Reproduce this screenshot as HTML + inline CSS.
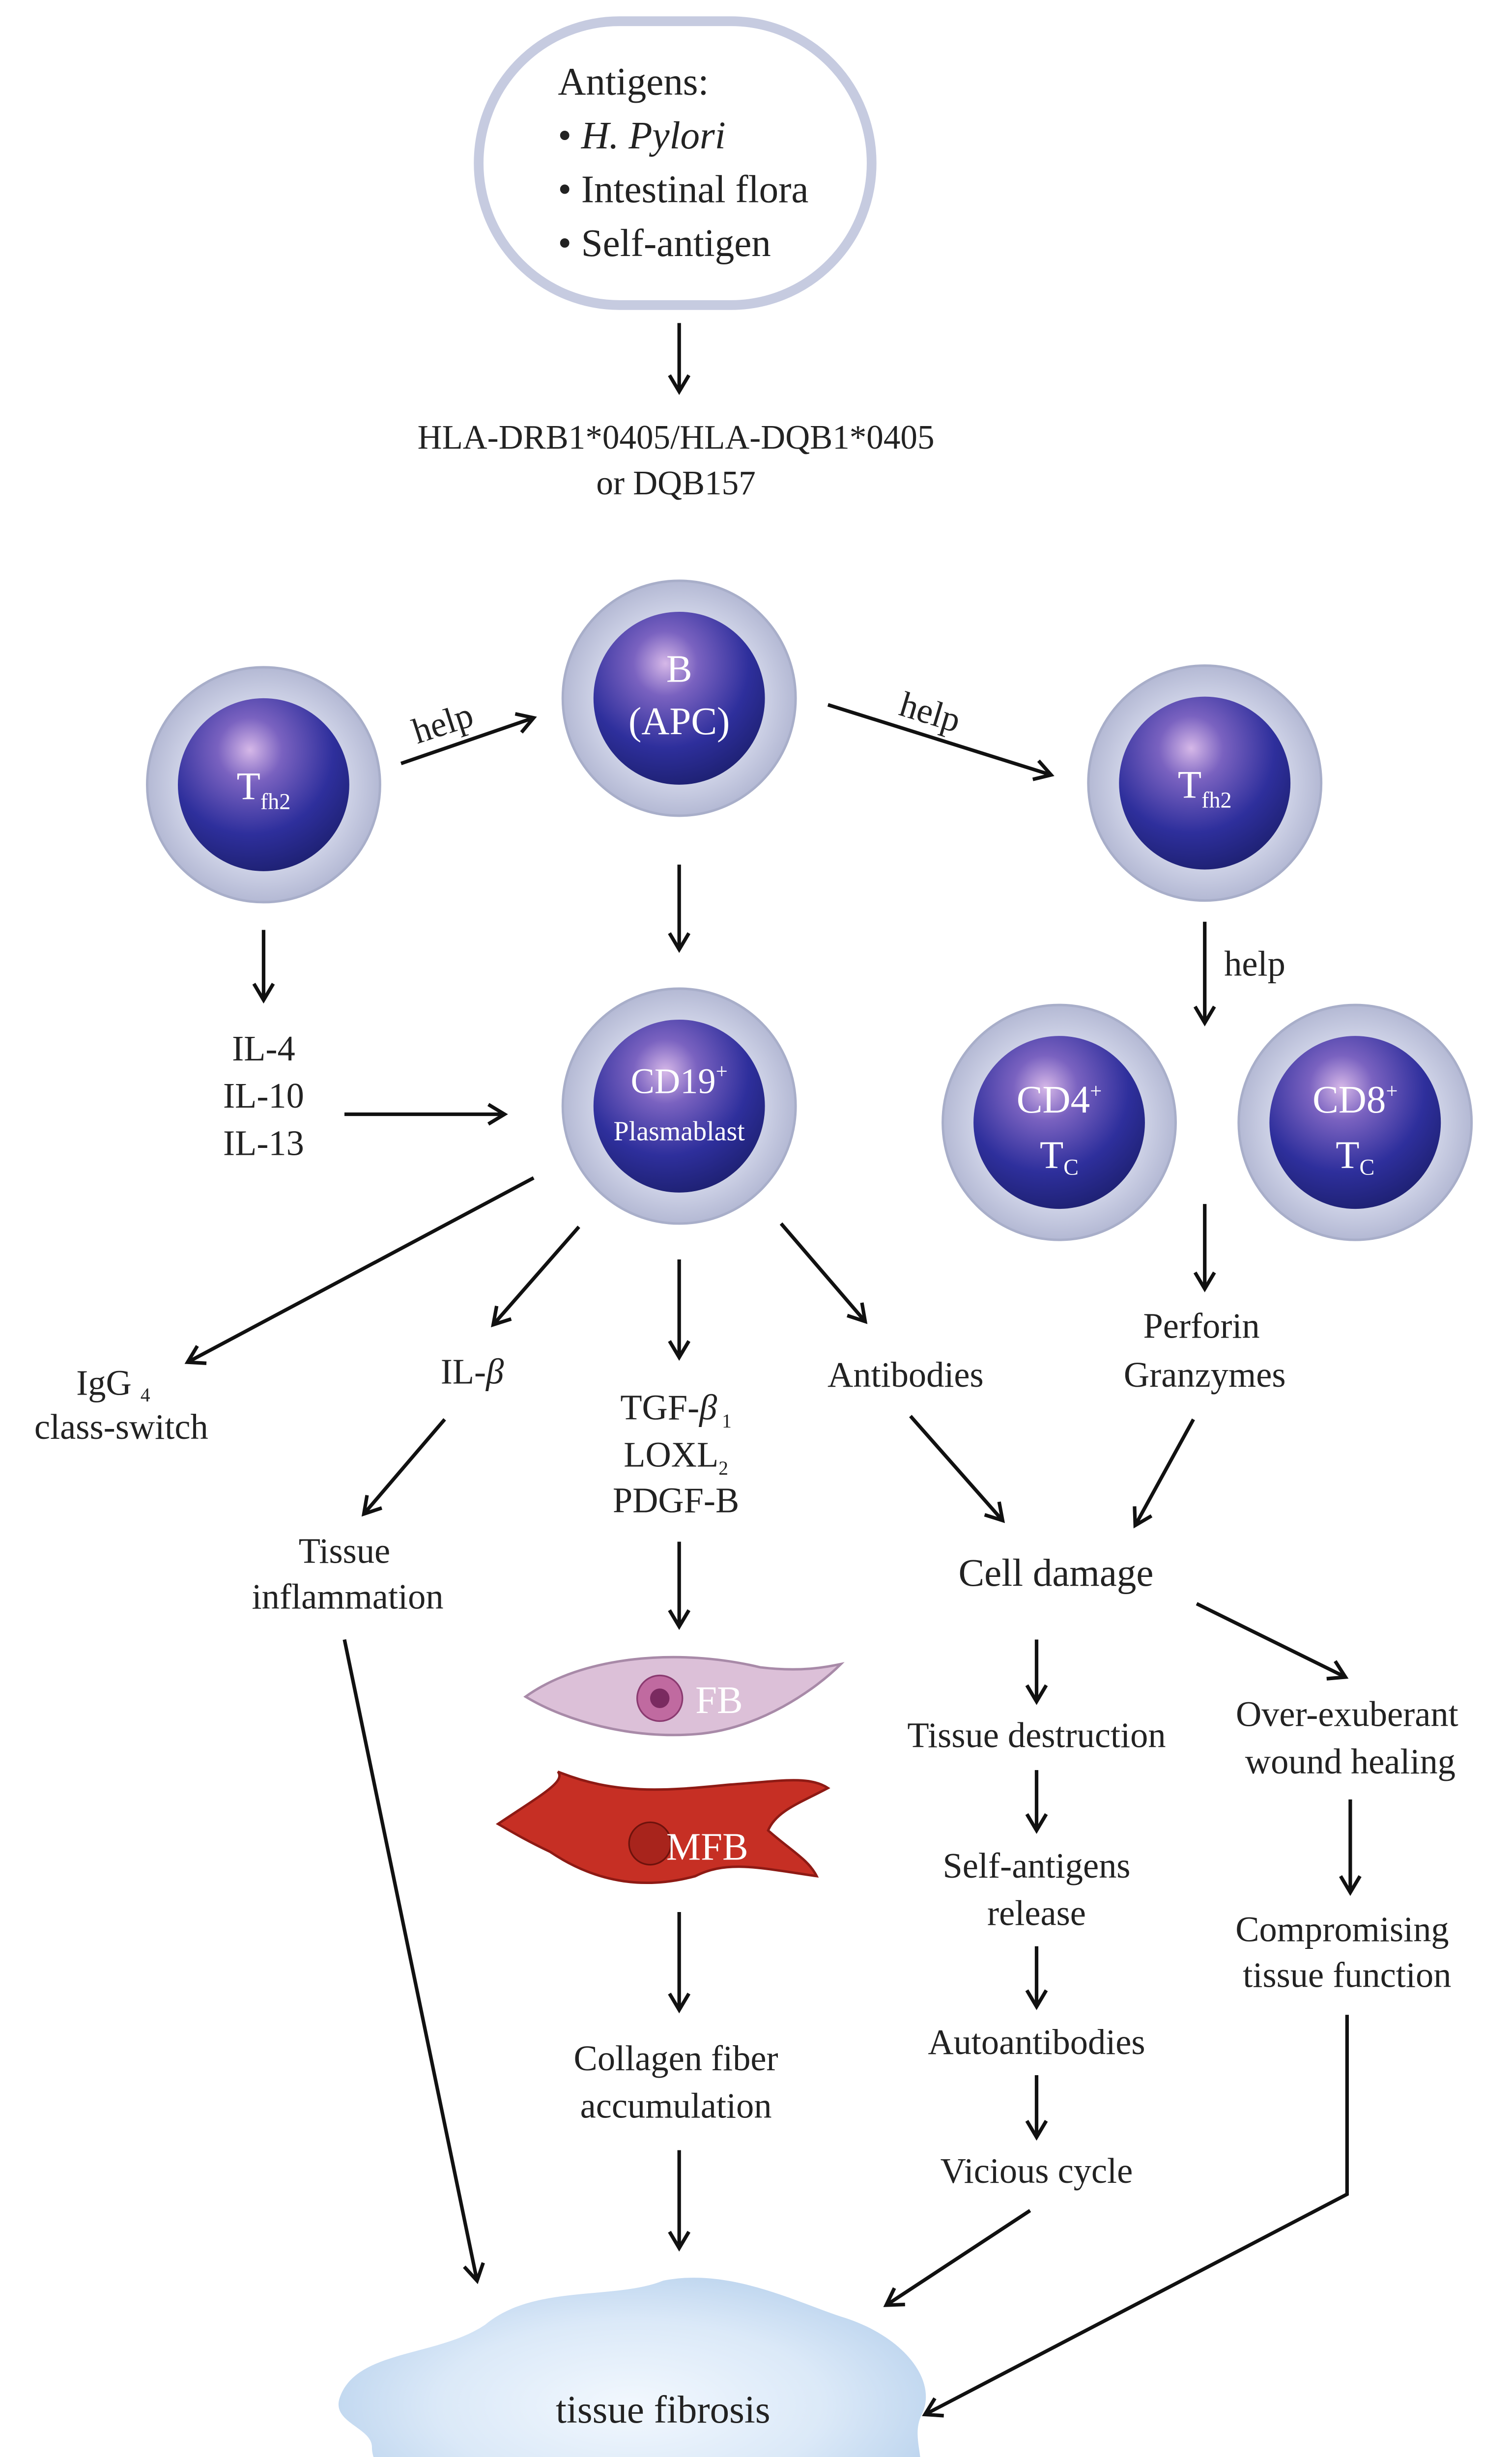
<!DOCTYPE html>
<html><head><meta charset="utf-8"><style>
html,body{margin:0;padding:0;background:#fff;width:3077px;height:5199px;overflow:hidden;}
svg{display:block;position:absolute;left:0;top:0;}
text{font-family:"Liberation Serif",serif;fill:#222;}
</style></head><body>
<svg width="3077" height="5199" viewBox="0 0 935 1566" preserveAspectRatio="none" xmlns="http://www.w3.org/2000/svg">
<defs>
<marker id="a" markerWidth="14" markerHeight="14" refX="11" refY="7" orient="auto" markerUnits="userSpaceOnUse">
<polyline points="1,1 11,7 1,13" fill="none" stroke="#111" stroke-width="2.2"/>
</marker>
<radialGradient id="g" cx="0.42" cy="0.3" r="0.75">
<stop offset="0" stop-color="#d6b8e8"/>
<stop offset="0.25" stop-color="#7a62c0"/>
<stop offset="0.65" stop-color="#2e2f9c"/>
<stop offset="1" stop-color="#1c1f6e"/>
</radialGradient>
<radialGradient id="ring" cx="0.5" cy="0.5" r="0.5">
<stop offset="0.7" stop-color="#d0d4e8"/>
<stop offset="1" stop-color="#b4b9d4"/>
</radialGradient>
<radialGradient id="cl" cx="0.5" cy="0.5" r="0.55">
<stop offset="0" stop-color="#f2f8fe"/>
<stop offset="0.6" stop-color="#dbe9f8"/>
<stop offset="1" stop-color="#bcd4ee"/>
</radialGradient>
</defs>
<g stroke="#111" stroke-width="2.2" fill="none" marker-end="url(#a)">
<line x1="420" y1="198" x2="420" y2="240"/>
<line x1="248" y1="468" x2="330" y2="440"/>
<line x1="512" y1="432" x2="650" y2="475"/>
<line x1="420" y1="530" x2="420" y2="582"/>
<line x1="163" y1="570" x2="163" y2="613"/>
<line x1="213" y1="683" x2="312" y2="683"/>
<line x1="745" y1="565" x2="745" y2="627"/>
<line x1="330" y1="722" x2="116" y2="835"/>
<line x1="358" y1="752" x2="305" y2="812"/>
<line x1="420" y1="772" x2="420" y2="832"/>
<line x1="483" y1="750" x2="535" y2="810"/>
<line x1="745" y1="738" x2="745" y2="790"/>
<line x1="275" y1="870" x2="225" y2="928"/>
<line x1="563" y1="868" x2="620" y2="932"/>
<line x1="738" y1="870" x2="702" y2="935"/>
<line x1="420" y1="945" x2="420" y2="997"/>
<line x1="420" y1="1172" x2="420" y2="1232"/>
<line x1="420" y1="1318" x2="420" y2="1378"/>
<line x1="213" y1="1005" x2="295" y2="1398"/>
<line x1="641" y1="1005" x2="641" y2="1043"/>
<line x1="641" y1="1085" x2="641" y2="1122"/>
<line x1="641" y1="1193" x2="641" y2="1230"/>
<line x1="641" y1="1272" x2="641" y2="1310"/>
<line x1="637" y1="1355" x2="548" y2="1413"/>
<line x1="740" y1="983" x2="832" y2="1028"/>
<line x1="835" y1="1103" x2="835" y2="1160"/>
<polyline points="833,1235 833,1345 572,1480"/>
</g>
<rect x="296" y="13" width="243" height="174" rx="87" ry="87" fill="#fff" stroke="#c6cbe0" stroke-width="6"/>
<g font-size="24">
<text x="345" y="58">Antigens:</text>
<text x="345" y="91">• <tspan font-style="italic">H. Pylori</tspan></text>
<text x="345" y="124">• Intestinal flora</text>
<text x="345" y="157">• Self-antigen</text>
</g>
<g font-size="21" text-anchor="middle">
<text x="418" y="275">HLA-DRB1*0405/HLA-DQB1*0405</text>
<text x="418" y="303">or DQB157</text>
</g>
<g>
<circle cx="163" cy="481" r="72" fill="url(#ring)" stroke="#a8aec9" stroke-width="1.5"/><circle cx="163" cy="481" r="53" fill="url(#g)"/>
<circle cx="420" cy="428" r="72" fill="url(#ring)" stroke="#a8aec9" stroke-width="1.5"/><circle cx="420" cy="428" r="53" fill="url(#g)"/>
<circle cx="745" cy="480" r="72" fill="url(#ring)" stroke="#a8aec9" stroke-width="1.5"/><circle cx="745" cy="480" r="53" fill="url(#g)"/>
<circle cx="420" cy="678" r="72" fill="url(#ring)" stroke="#a8aec9" stroke-width="1.5"/><circle cx="420" cy="678" r="53" fill="url(#g)"/>
<circle cx="655" cy="688" r="72" fill="url(#ring)" stroke="#a8aec9" stroke-width="1.5"/><circle cx="655" cy="688" r="53" fill="url(#g)"/>
<circle cx="838" cy="688" r="72" fill="url(#ring)" stroke="#a8aec9" stroke-width="1.5"/><circle cx="838" cy="688" r="53" fill="url(#g)"/>
</g>
<g text-anchor="middle">
<text x="163" y="490" font-size="24" style="fill:#fff">T<tspan font-size="14" dy="6">fh2</tspan></text>
<text x="745" y="489" font-size="24" style="fill:#fff">T<tspan font-size="14" dy="6">fh2</tspan></text>
<text x="420" y="418" font-size="24" style="fill:#fff">B</text>
<text x="420" y="450" font-size="24" style="fill:#fff">(APC)</text>
<text x="420" y="670" font-size="22" style="fill:#fff">CD19<tspan font-size="13" dy="-9">+</tspan></text>
<text x="420" y="699" font-size="17" style="fill:#fff">Plasmablast</text>
<text x="655" y="682" font-size="24" style="fill:#fff">CD4<tspan font-size="13" dy="-9">+</tspan></text>
<text x="655" y="716" font-size="24" style="fill:#fff">T<tspan font-size="14" dy="4">C</tspan></text>
<text x="838" y="682" font-size="24" style="fill:#fff">CD8<tspan font-size="13" dy="-9">+</tspan></text>
<text x="838" y="716" font-size="24" style="fill:#fff">T<tspan font-size="14" dy="4">C</tspan></text>
</g>
<g font-size="22">
<text x="258" y="456" transform="rotate(-18 258 456)">help</text>
<text x="555" y="438" transform="rotate(17 555 438)">help</text>
<text x="757" y="598">help</text>
</g>
<g font-size="22" text-anchor="middle">
<text x="163" y="650">IL-4</text><text x="163" y="679">IL-10</text><text x="163" y="708">IL-13</text>
<text x="70" y="855">IgG <tspan font-size="12" dy="4">4</tspan></text>
<text x="75" y="882">class-switch</text>
<text x="292" y="848">IL-<tspan font-style="italic">β</tspan></text>
<text x="418" y="870">TGF-<tspan font-style="italic">β</tspan><tspan font-size="12" dy="5"> 1</tspan></text>
<text x="418" y="899">LOXL<tspan font-size="12" dy="5">2</tspan></text>
<text x="418" y="927">PDGF-B</text>
<text x="560" y="850">Antibodies</text>
<text x="743" y="820">Perforin</text>
<text x="745" y="850">Granzymes</text>
<text x="213" y="958">Tissue</text><text x="215" y="986">inflammation</text>
<text x="653" y="972" font-size="24">Cell damage</text>
<text x="641" y="1071">Tissue destruction</text>
<text x="641" y="1151">Self-antigens</text><text x="641" y="1180">release</text>
<text x="641" y="1259">Autoantibodies</text>
<text x="641" y="1338">Vicious cycle</text>
<text x="833" y="1058">Over-exuberant</text><text x="835" y="1087">wound healing</text>
<text x="830" y="1190">Compromising</text><text x="833" y="1218">tissue function</text>
<text x="418" y="1269">Collagen fiber</text><text x="418" y="1298">accumulation</text>
</g>
<path d="M325,1040 C360,1015 420,1010 470,1022 C495,1025 510,1022 520,1020 C505,1035 470,1060 430,1063 C390,1066 350,1055 325,1040Z" fill="#dcc0d8" stroke="#a88aa8" stroke-width="1.5"/>
<circle cx="408" cy="1041" r="14" fill="#c06aa0" stroke="#8a3a70"/><circle cx="408" cy="1041" r="6" fill="#7a2a60"/>
<text x="430" y="1050" font-size="24" style="fill:#fff">FB</text>
<path d="M308,1118 C335,1100 350,1092 345,1086 C380,1100 410,1098 450,1094 C480,1092 500,1088 512,1096 C495,1105 480,1110 475,1122 C490,1135 500,1140 505,1150 C470,1145 450,1140 430,1150 C400,1158 370,1155 340,1135 C325,1128 315,1122 308,1118Z" fill="#c62f24" stroke="#8e1a14" stroke-width="1.5"/>
<circle cx="402" cy="1130" r="13" fill="#a8241c" stroke="#6e120c"/>
<text x="412" y="1140" font-size="24" style="fill:#fff">MFB</text>
<path d="M210,1470 C220,1440 270,1445 300,1425 C330,1400 380,1410 410,1398 C450,1390 490,1410 520,1420 C560,1432 580,1460 570,1480 C560,1500 585,1520 550,1535 C510,1550 470,1530 430,1545 C390,1560 340,1550 300,1540 C260,1530 230,1520 230,1500 C230,1488 205,1485 210,1470Z" fill="url(#cl)"/>
<text x="410" y="1485" font-size="24" text-anchor="middle">tissue fibrosis</text>
</svg>
</body></html>
